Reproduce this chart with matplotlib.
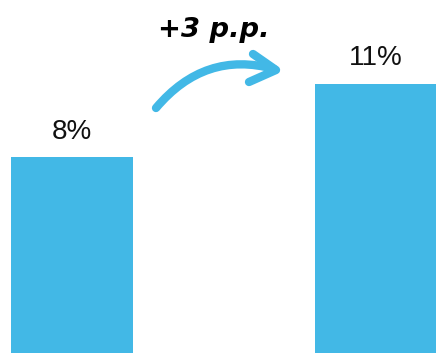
import matplotlib
matplotlib.use("Agg")
import matplotlib.pyplot as plt
from matplotlib.path import Path
from matplotlib.patches import PathPatch

# Data
categories = ["Before", "After"]
values = [8, 11]
value_labels = ["8%", "11%"]
change_label = "+3 p.p."

BAR_COLOR = "#42B8E6"

W, H = 436, 353
fig = plt.figure(figsize=(W / 100, H / 100), dpi=100)
ax = fig.add_axes([0, 0, 1, 1])

x = list(range(len(categories)))
ax.bar(x, values, width=0.402, color=BAR_COLOR, linewidth=0)
ax.set_xlim(-0.237, 1.199)
ax.set_ylim(0, 14.41)
ax.axis("off")

for xi, v, lab in zip(x, values, value_labels):
    ax.annotate(lab, (xi, v), xytext=(0, 13.3), textcoords="offset points",
                ha="center", va="baseline", fontsize=20,
                family="Liberation Sans", color="#111111")

# Curved arrow between the two bars (pixel-space coordinates, y down)
def px(xp, yp):
    return (xp / W, 1 - yp / H)

curve = Path([px(156, 108), px(205, 50), px(274, 69)],
             [Path.MOVETO, Path.CURVE3, Path.CURVE3])
ax.add_patch(PathPatch(curve, transform=ax.transAxes, fill=False,
                       edgecolor=BAR_COLOR, lw=6, capstyle="round",
                       joinstyle="round"))
head = Path([px(253, 54), px(276, 70), px(249, 82)],
            [Path.MOVETO, Path.LINETO, Path.LINETO])
ax.add_patch(PathPatch(head, transform=ax.transAxes, fill=False,
                       edgecolor=BAR_COLOR, lw=6, capstyle="round",
                       joinstyle="round"))

ax.text(*px(214, 37), change_label, transform=ax.transAxes,
        ha="center", va="baseline", fontsize=19.7, fontweight="bold",
        fontstyle="oblique", family="DejaVu Sans", color="#000000")

fig.savefig("out.png", dpi=100)
